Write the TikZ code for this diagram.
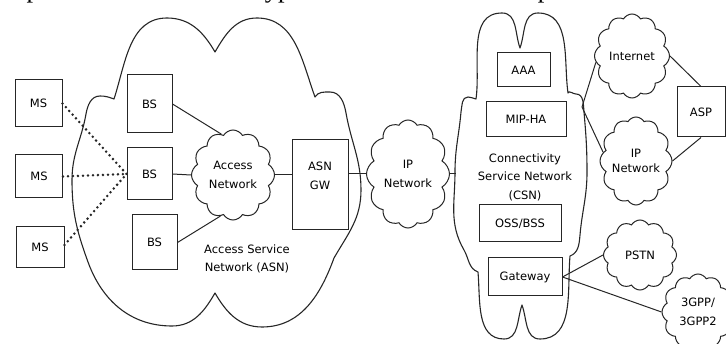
\documentclass[tikz,border=0pt]{standalone}
\usepackage{graphicx}
\usepackage{fontspec}
\setmainfont{DejaVu Sans}
\newfontfamily\bookfont{Liberation Serif}
\usetikzlibrary{shapes.symbols}

\begin{document}
\begin{tikzpicture}[x=1pt,y=1pt,
  outline/.style={draw=black!85, line width=1.1pt, line join=round},
  box/.style={draw=black!85, line width=1pt, inner sep=0pt, align=center,
              font=\fontsize{11.5}{18}\selectfont},
  puff/.style={cloud, draw=black!85, line width=1pt, cloud puffs=12,
               cloud puff arc=120, cloud ignores aspect, inner sep=0pt,
               align=center, font=\fontsize{11.5}{19}\selectfont},
  lbl/.style={inner sep=0pt, align=center, font=\fontsize{11.5}{18.5}\selectfont},
  link/.style={draw=black!85, line width=1pt},
  radio/.style={draw=black!85, line width=2.8pt, line cap=round,
                dash pattern=on 0pt off 5pt}
]
\useasboundingbox (0,0) rectangle (726,-344);
\clip (0,0) rectangle (726,-344);

% running text of the page, cut at the top edge
\node[anchor=base west, inner sep=0pt, font=\bookfont] (pagetext) at (3,2.5)
  {\resizebox{722pt}{!}{capabilities. With other types of structures as well packet switched a}};

% ---------------- Access Service Network ----------------
\draw[outline] (72,-180)
  to[out=90,in=-100] (86,-114)
  to[out=80,in=180] (100,-96)
  to[out=0,in=160] (114,-99)
  to[out=72,in=180] (167,-18)
  to[out=0,in=120] (215,-52)
  to[out=60,in=180] (257,-18)
  to[out=0,in=110] (315,-97)
  to[out=60,in=180] (330,-92)
  to[out=0,in=100] (346,-113)
  to[out=-80,in=90] (361,-190)
  to[out=-90,in=60] (334,-258)
  to[out=-110,in=0] (262,-327)
  to[out=180,in=-60] (215,-293)
  to[out=-120,in=0] (172,-326)
  to[out=180,in=-70] (88,-262)
  to[out=110,in=-90] (72,-180) -- cycle;

\node[box, minimum width=47pt, minimum height=47pt] (ms1) at (38.5,-103.5) {MS};
\node[box, minimum width=47pt, minimum height=43pt] (ms2) at (39,-176.5) {MS};
\node[box, minimum width=48pt, minimum height=41pt] (ms3) at (40,-247.5) {MS};

\node[box, minimum width=45pt, minimum height=58pt] (bs1) at (149.5,-104) {BS};
\node[box, minimum width=45pt, minimum height=52pt] (bs2) at (149.5,-174) {BS};
\node[box, minimum width=45pt, minimum height=55pt] (bs3) at (154.5,-242.5) {BS};

\node[puff, minimum width=83pt, minimum height=90pt] (acc) at (233,-175) {Access\\Network};

\node[box, minimum width=56pt, minimum height=90pt] (gw) at (320,-185) {};
\node[lbl] (gwtext) at (320,-176) {ASN\\GW};

\node[lbl] (asntext) at (247,-259) {Access Service\\Network (ASN)};

% radio links
\draw[radio] (ms1.east) -- (bs2.west);
\draw[radio] (ms2.east) -- (bs2.west);
\draw[radio] (ms3.east |- 0,-245) -- (bs2.west);

% wired links inside the ASN
\draw[link] (bs1.east) -- (acc.106);
\draw[link] (bs2.east) -- (acc.west);
\draw[link] (bs3.east) -- (acc.253);
\draw[link] (acc.east) -- (acc.east -| gw.west);

% ---------------- IP backbone ----------------
\node[puff, minimum width=83pt, minimum height=108pt] (ipn) at (408,-174) {IP\\Network};
\draw[link] (ipn.west -| gw.east) -- (ipn.west);

% ---------------- Connectivity Service Network ----------------
\draw[outline] (455,-172)
  to[out=90,in=-95] (461,-112)
  to[out=80,in=180] (468,-97)
  to[out=0,in=170] (476,-99)
  to[out=82,in=180] (502,-13)
  to[out=0,in=110] (520,-48)
  to[out=70,in=180] (538,-13)
  to[out=0,in=98] (568,-93)
  to[out=70,in=180] (576,-94)
  to[out=0,in=95] (584,-112)
  to[out=-85,in=90] (587,-172)
  to[out=-90,in=85] (580,-235)
  to[out=-95,in=20] (570,-256)
  to[out=-95,in=0] (540,-339)
  to[out=180,in=-70] (522,-305)
  to[out=-110,in=0] (504,-339)
  to[out=180,in=-85] (478,-272)
  to[out=160,in=-60] (464,-250)
  to[out=120,in=-90] (455,-172) -- cycle;
\coordinate (csnW) at (456,-174);
\coordinate (csnE) at (582,-107);

\draw[link] (ipn.east) -- (csnW);

\node[box, minimum width=53pt, minimum height=34pt] (aaa) at (523.5,-70) {AAA};
\node[box, minimum width=80pt, minimum height=35pt] (mip) at (526,-119.5) {MIP-HA};
\node[lbl] (csntext) at (525,-177) {Connectivity\\Service Network\\(CSN)};
\node[box, minimum width=82pt, minimum height=37pt] (oss) at (520,-223.5) {OSS/BSS};
\node[box, minimum width=74pt, minimum height=38pt] (gwy) at (525,-277) {Gateway};

% ---------------- external networks ----------------
\node[puff, minimum width=75pt, minimum height=84pt] (inet) at (632,-56) {Internet};
\node[puff, minimum width=72pt, minimum height=88pt,
      font=\fontsize{11.5}{15}\selectfont] (ipr) at (636,-161) {IP\\Network};
\node[box, minimum width=48pt, minimum height=50pt] (asp) at (701,-112) {ASP};
\node[puff, minimum width=73pt, minimum height=70pt] (pstn) at (640,-255) {PSTN};
\node[puff, minimum width=72pt, minimum height=76pt] (g3) at (698,-312) {3GPP/\\3GPP2};

\draw[link] (csnE) -- (inet.190);
\draw[link] (csnE) -- (ipr.165);
\draw[link] (inet.east) -- (asp.north);
\draw[link] (ipr.east) -- (asp.south);
\draw[link] (gwy.east) -- (pstn.west);
\draw[link] (gwy.east) -- (g3.west);
\end{tikzpicture}
\end{document}
